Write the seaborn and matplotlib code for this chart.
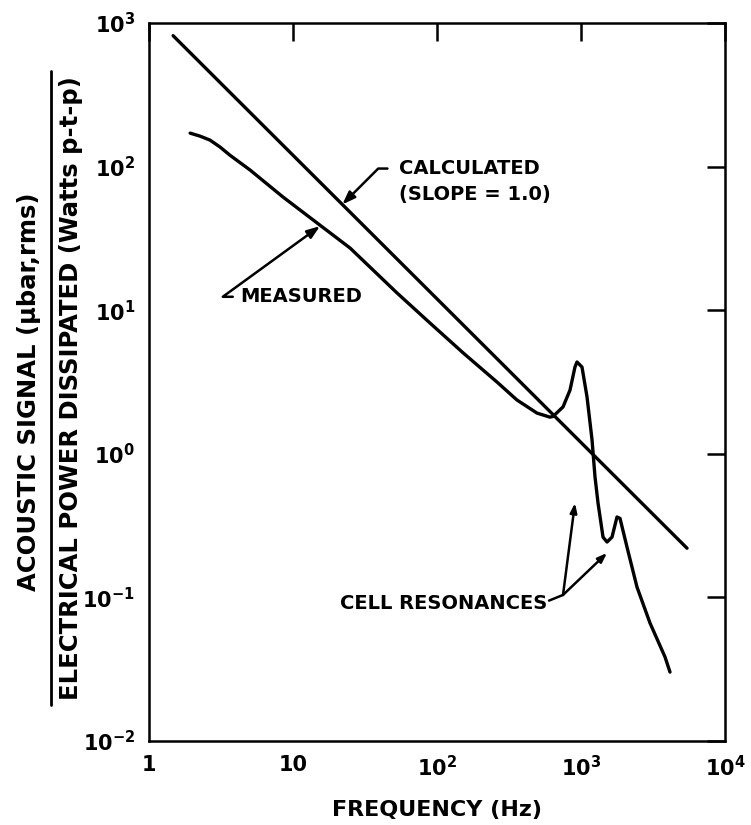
import numpy as np
import pandas as pd
import seaborn as sns
import matplotlib.pyplot as plt
from matplotlib.lines import Line2D

# values
meas_freq = [1.93, 2.26, 2.65, 3.11, 3.65, 5.03, 8.52, 14.7, 24.9, 52.7, 89.4, 152,
             261, 359, 495, 609, 639, 750, 839, 908, 938, 1016, 1101, 1193, 1251,
             1313, 1422, 1516, 1642, 1778, 1866, 2087, 2448, 3014, 3831, 4150]
meas_signal = [171, 163, 153, 137, 120, 94.7, 61.4, 40.5, 27.1, 13.2, 8.14, 5.04,
               3.16, 2.37, 1.92, 1.80, 1.82, 2.12, 2.78, 4.02, 4.36, 4.02, 2.49, 1.25,
               0.69, 0.454, 0.263, 0.243, 0.263, 0.363, 0.355, 0.224, 0.118, 0.0663,
               0.0385, 0.0302]
calc_freq = [1.47, 5450]
calc_signal = [816, 0.22]

x_ticks = [1, 10, 100, 1000, 10000]
x_ticklabels = ['1', '10', r'$\mathbf{10^{2}}$', r'$\mathbf{10^{3}}$', r'$\mathbf{10^{4}}$']
y_ticks = [0.01, 0.1, 1, 10, 100, 1000]
y_ticklabels = [r'$\mathbf{10^{-2}}$', r'$\mathbf{10^{-1}}$', r'$\mathbf{10^{0}}$',
                r'$\mathbf{10^{1}}$', r'$\mathbf{10^{2}}$', r'$\mathbf{10^{3}}$']

measured = pd.DataFrame({'freq': meas_freq, 'signal': meas_signal})
calculated = pd.DataFrame({'freq': calc_freq, 'signal': calc_signal})

sns.set_style("white")
plt.rcParams['font.family'] = ['DejaVu Sans']
plt.rcParams['mathtext.fontset'] = 'dejavusans'
plt.rcParams['text.color'] = 'black'
plt.rcParams['axes.labelcolor'] = 'black'
plt.rcParams['xtick.color'] = 'black'
plt.rcParams['ytick.color'] = 'black'

fig = plt.figure(figsize=(7.51, 8.25), dpi=100)
ax = fig.add_axes([149 / 751, 1 - 741 / 825, 576 / 751, 718 / 825])

sns.lineplot(data=calculated, x='freq', y='signal', ax=ax, color='black', lw=2.4)
sns.lineplot(data=measured, x='freq', y='signal', ax=ax, color='black', lw=2.4)

ax.set(xscale='log', yscale='log', xlim=(1, 1e4), ylim=(1e-2, 1e3))
ax.set_xticks(x_ticks)
ax.set_xticklabels(x_ticklabels)
ax.set_yticks(y_ticks)
ax.set_yticklabels(y_ticklabels)
ax.minorticks_off()
ax.tick_params(direction='in', length=13, width=1.8, top=True, right=True,
               labelsize=15, pad=10)
for lab in ax.get_xticklabels() + ax.get_yticklabels():
    lab.set_fontweight('bold')
for sp in ax.spines.values():
    sp.set_linewidth(1.8)
    sp.set_color('black')

ax.set_xlabel('FREQUENCY (Hz)', fontsize=16, fontweight='bold', labelpad=14)
ax.set_ylabel('')

# two-line y label written as a fraction
fig.text(29 / 751, 1 - 392 / 825, 'ACOUSTIC SIGNAL (\u03bcbar,rms)', rotation=90,
         ha='center', va='center', fontsize=17.5, fontweight='bold')
fig.text(71 / 751, 1 - 388 / 825, 'ELECTRICAL POWER DISSIPATED (Watts p-t-p)',
         rotation=90, ha='center', va='center', fontsize=17.5, fontweight='bold')
fig.add_artist(Line2D([51 / 751, 51 / 751], [1 - 705 / 825, 1 - 71 / 825],
                      color='black', lw=2))

arrow = dict(arrowstyle='-|>,head_length=0.55,head_width=0.2', color='black', lw=1.8,
             shrinkA=6, shrinkB=0)

ax.annotate('CALCULATED\n(SLOPE = 1.0)', xy=(22, 54.5), xytext=(54.5, 79),
            ha='left', va='center', fontsize=14, fontweight='bold', linespacing=1.5,
            arrowprops=dict(arrow, relpos=(0, 0.78),
                            connectionstyle='angle,angleA=0,angleB=45,rad=0'))

ax.annotate('MEASURED', xy=(15.4, 38.5), xytext=(4.3, 12.4),
            ha='left', va='center', fontsize=14, fontweight='bold',
            arrowprops=dict(arrow, relpos=(0, 0.5), shrinkA=3,
                            connectionstyle='angle,angleA=0,angleB=36,rad=0'))

ax.text(585, 0.0914, 'CELL RESONANCES', ha='right', va='center',
        fontsize=14, fontweight='bold')
ax.annotate('', xy=(750, 0.104), xytext=(600, 0.095),
            arrowprops=dict(arrowstyle='-', color='black', lw=1.8,
                            shrinkA=0, shrinkB=0))
ax.annotate('', xy=(908, 0.454), xytext=(750, 0.104),
            arrowprops=dict(arrow, shrinkA=0))
ax.annotate('', xy=(1517, 0.204), xytext=(750, 0.104),
            arrowprops=dict(arrow, shrinkA=0))

fig.savefig('out.png', dpi=100)
